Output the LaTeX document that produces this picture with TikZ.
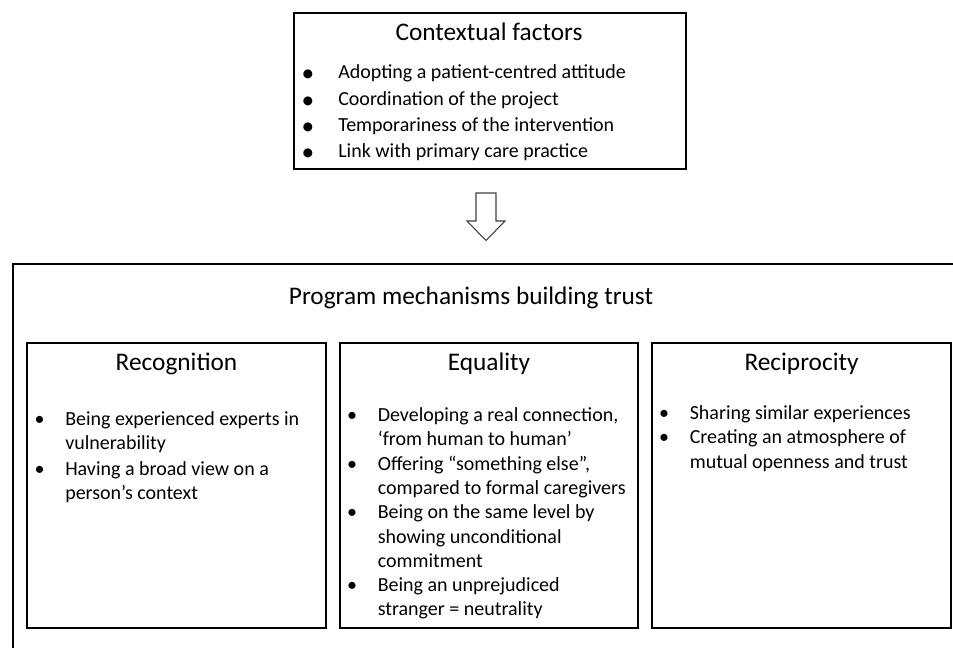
\documentclass[tikz,border=0pt]{standalone}
\usepackage{fontspec}
\setmainfont{Carlito}
\begin{document}
\begin{tikzpicture}[x=0.75pt,y=-0.75pt,
  box/.style={draw=black,line width=1pt},
  headfont/.style={font=\fontsize{19}{23}\selectfont},
  txt/.style={font=\fontsize{15}{18}\selectfont,anchor=base west,inner sep=0pt},
  bul/.style={font=\fontsize{15}{18}\selectfont,anchor=base,inner sep=0pt},
  bigbul/.style={font=\fontsize{19}{18}\selectfont,anchor=base,inner sep=0pt},
  ttl/.style={headfont,anchor=base,inner sep=0pt}]
\useasboundingbox (0,0) rectangle (953,648);
% top box
\draw[box] (294,13) rectangle (686,169);
\node[ttl] (ctitle) at (489,41) {Contextual factors};
\node[bigbul] (cb1) at (308,82) {•};
\node[bigbul] (cb2) at (308,109) {•};
\node[bigbul] (cb3) at (308,135) {•};
\node[bigbul] (cb4) at (308,161) {•};
\node[txt] (c1) at (338,79) {Adopting a patient-centred attitude};
\node[txt] (c2) at (338,105.5) {Coordination of the project};
\node[txt] (c3) at (338,132) {Temporariness of the intervention};
\node[txt] (c4) at (338,158) {Link with primary care practice};
% arrow
\draw[line width=0.8pt,draw=black!75] (476,193) -- (496,193) -- (496,221) -- (505,221) -- (486,240.5) -- (467,221) -- (476,221) -- cycle;
% big box (open to right and bottom)
\draw[box] (953,264) -- (13,264) -- (13,648);
\node[ttl] (ptitle) at (471,305) {Program mechanisms building trust};
% three boxes
\draw[box] (27,343) rectangle (326,628);
\draw[box] (340,343) rectangle (638,628);
\draw[box] (652,343) rectangle (951,628);
\node[ttl] (rec) at (176.5,371) {Recognition};
\node[ttl] (equ) at (489,371) {Equality};
\node[ttl] (rcp) at (801.5,371) {Reciprocity};
% recognition
\node[bul] (rb1) at (39.5,426) {•};
\node[bul] (rb2) at (39.5,475) {•};
\node[txt] (r1) at (65,426) {Being experienced experts in};
\node[txt] (r2) at (65,450) {vulnerability};
\node[txt] (r3) at (65,475) {Having a broad view on a};
\node[txt] (r4) at (65,499) {person’s context};
% equality
\node[bul] (eb1) at (352,421.5) {•};
\node[bul] (eb2) at (352,470) {•};
\node[bul] (eb3) at (352,518.5) {•};
\node[bul] (eb4) at (352,591.5) {•};
\node[txt] (e1) at (377.5,421.5) {Developing a real connection,};
\node[txt] (e2) at (377.5,445.5) {‘from human to human’};
\node[txt] (e3) at (377.5,470) {Offering “something else”,};
\node[txt] (e4) at (377.5,494) {compared to formal caregivers};
\node[txt] (e5) at (377.5,518.5) {Being on the same level by};
\node[txt] (e6) at (377.5,543) {showing unconditional};
\node[txt] (e7) at (377.5,567) {commitment};
\node[txt] (e8) at (377.5,591.5) {Being an unprejudiced};
\node[txt] (e9) at (377.5,615.5) {stranger = neutrality};
% reciprocity
\node[bul] (pb1) at (664,420) {•};
\node[bul] (pb2) at (664,444) {•};
\node[txt] (p1) at (689.5,420) {Sharing similar experiences};
\node[txt] (p2) at (689.5,444) {Creating an atmosphere of};
\node[txt] (p3) at (689.5,468) {mutual openness and trust};
\end{tikzpicture}
\end{document}
